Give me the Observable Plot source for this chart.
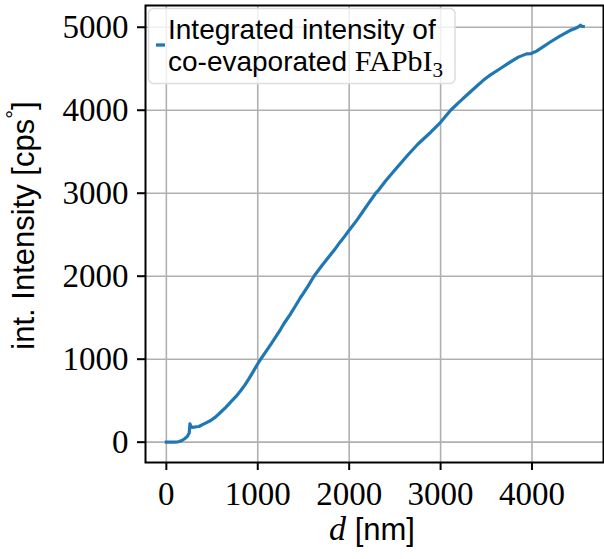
<!DOCTYPE html>
<html>
<head>
<meta charset="utf-8">
<script src="https://cdn.jsdelivr.net/npm/d3@7"></script>
<script src="https://cdn.jsdelivr.net/npm/@observablehq/plot@0.6"></script>
<style>
  html, body { margin: 0; padding: 0; background: #fff; }
  #chart svg { display: block; }
</style>
</head>
<body>
<div id="chart"></div>
<script>
// Film thickness d [nm] and integrated intensity [cps°] of co-evaporated FAPbI3
const thickness = [
  0, 40, 80, 120, 140, 170, 200, 230, 250, 258, 266, 280, 302, 330, 357,
  400, 440, 485, 540, 594, 650, 703, 760, 813, 860, 904, 950, 1000, 1032,
  1100, 1150, 1200, 1250, 1287, 1350, 1400, 1466, 1500, 1550, 1615, 1700,
  1750, 1800, 1850, 1900, 1950, 2000, 2050, 2100, 2150, 2200, 2290, 2320,
  2400, 2500, 2637, 2750, 2892, 3000, 3110, 3200, 3300, 3400, 3467, 3550,
  3650, 3731, 3850, 3940, 3990, 4050, 4196, 4300, 4414, 4470, 4500, 4530, 4545, 4560
];
const intensity = [
  0, 0, 0, 2, 8, 20, 41, 70, 110, 222, 200, 178, 181, 186, 189,
  215, 236, 261, 305, 361, 420, 482, 548, 620, 690, 765, 850, 945, 1000,
  1110, 1190, 1275, 1360, 1430, 1530, 1620, 1740, 1795, 1880, 2000, 2125,
  2195, 2265, 2335, 2410, 2480, 2555, 2625, 2700, 2780, 2860, 3000, 3035,
  3150, 3280, 3454, 3590, 3735, 3855, 4000, 4095, 4195, 4295, 4360, 4430,
  4500, 4559, 4640, 4679, 4683, 4712, 4819, 4890, 4960, 4985, 5000, 5025, 5012, 5010
];

const xTicks = [0, 1000, 2000, 3000, 4000];
const yTicks = [0, 1000, 2000, 3000, 4000, 5000];

const legendLine1 = "Integrated intensity of";
const legendLine2 = "co-evaporated ";
const legendFormula = "FAPbI";
const legendSubscript = "3";
const xLabelVar = "d";
const xLabelUnit = "[nm]";
const yLabelText = "int. Intensity [cps";
const yLabelSup = "°";

const lineColor = "#1f77b4";
const serif = "'Liberation Serif', 'DejaVu Serif', serif";
const sans = "'Liberation Sans', Arimo, Arial, sans-serif";

const rows = thickness.map((d, i) => ({d, I: intensity[i]}));

const W = 604, H = 559;
const mL = 145, mR = 1, mT = 5, mB = 97;

const chart = Plot.plot({
  width: W,
  height: H,
  marginLeft: mL,
  marginRight: mR,
  marginTop: mT,
  marginBottom: mB,
  style: {background: "white", color: "black"},
  x: {domain: [-228, 4782]},
  y: {domain: [-245, 5262]},
  marks: [
    Plot.gridX(xTicks, {stroke: "#b0b0b0", strokeOpacity: 1, strokeWidth: 1.6}),
    Plot.gridY(yTicks, {stroke: "#b0b0b0", strokeOpacity: 1, strokeWidth: 1.6}),
    Plot.line(rows, {x: "d", y: "I", stroke: lineColor, strokeWidth: 3.2, strokeLinejoin: "round", strokeLinecap: "square"}),
    Plot.frame({stroke: "black", strokeWidth: 2}),
    Plot.axisX(xTicks, {
      tickSize: 8, tickPadding: 11.5, strokeWidth: 2,
      fontSize: 33, fontFamily: serif, fill: "black", label: null,
      tickFormat: d => String(d)
    }),
    Plot.axisY(yTicks, {
      tickSize: 8, tickPadding: 9, strokeWidth: 2,
      fontSize: 33, fontFamily: serif, fill: "black", label: null,
      tickFormat: d => String(d)
    })
  ]
});

document.getElementById("chart").appendChild(chart);

const svg = d3.select(chart);
const plotCenterX = (mL + (W - mR)) / 2;
const plotCenterY = (mT + (H - mB)) / 2;

// Axis titles
const xTitle = svg.append("text")
  .attr("x", plotCenterX - 2)
  .attr("y", 540)
  .attr("text-anchor", "middle")
  .attr("fill", "black");
xTitle.append("tspan")
  .attr("font-family", serif).attr("font-style", "italic").attr("font-size", 34)
  .text(xLabelVar);
xTitle.append("tspan")
  .attr("font-family", sans).attr("font-size", 31)
  .text("\u00a0" + xLabelUnit);

const yTitle = svg.append("text")
  .attr("transform", `translate(34,${plotCenterY - 8}) rotate(-90)`)
  .attr("text-anchor", "middle")
  .attr("font-family", sans)
  .attr("font-size", 31)
  .attr("fill", "black");
yTitle.append("tspan").text(yLabelText);
yTitle.append("tspan").attr("font-size", 22).attr("dy", -12).text(yLabelSup);
yTitle.append("tspan").attr("dy", 12).text("]");

// Legend
const legend = svg.append("g").attr("text-anchor", "start");
legend.append("rect")
  .attr("x", 148.5).attr("y", 8.5)
  .attr("width", 306.5).attr("height", 75)
  .attr("rx", 5).attr("ry", 5)
  .attr("fill", "white").attr("fill-opacity", 0.8)
  .attr("stroke", "#dddddd").attr("stroke-width", 1.5);
legend.append("line")
  .attr("x1", 156).attr("x2", 165)
  .attr("y1", 45).attr("y2", 45)
  .attr("stroke", lineColor).attr("stroke-width", 3.3);
legend.append("text")
  .attr("x", 168).attr("y", 38.5)
  .attr("text-anchor", "start")
  .attr("font-family", sans).attr("font-size", 28).attr("fill", "black")
  .text(legendLine1);
const l2 = legend.append("text")
  .attr("x", 168).attr("y", 70.5)
  .attr("text-anchor", "start")
  .attr("font-family", sans).attr("font-size", 28).attr("fill", "black");
l2.append("tspan").text(legendLine2);
l2.append("tspan").attr("font-family", serif).attr("font-size", 30).text(legendFormula);
l2.append("tspan").attr("font-family", serif).attr("font-size", 21).attr("dy", 6).text(legendSubscript);
</script>
</body>
</html>
